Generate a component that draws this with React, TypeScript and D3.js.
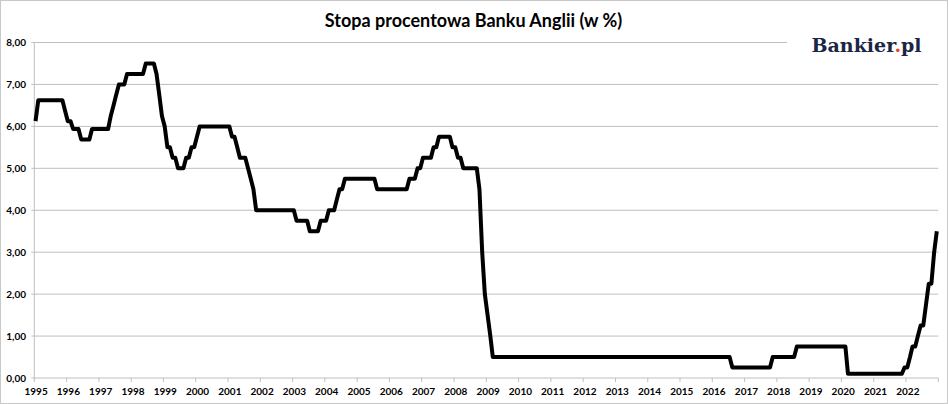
import React from "react";
import * as d3 from "d3";

// Monthly Bank of England rate (%), Jan 1995 – Dec 2022, one row per year
const rates: number[] = [
  // 1995
  6.125, 6.625, 6.625, 6.625, 6.625, 6.625, 6.625, 6.625, 6.625, 6.625, 6.625, 6.375,
  // 1996
  6.125, 6.125, 5.9375, 5.9375, 5.9375, 5.6875, 5.6875, 5.6875, 5.6875, 5.9375, 5.9375, 5.9375,
  // 1997
  5.9375, 5.9375, 5.9375, 5.9375, 6.25, 6.5, 6.75, 7.0, 7.0, 7.0, 7.25, 7.25,
  // 1998
  7.25, 7.25, 7.25, 7.25, 7.25, 7.5, 7.5, 7.5, 7.5, 7.25, 6.75, 6.25,
  // 1999
  6.0, 5.5, 5.5, 5.25, 5.25, 5.0, 5.0, 5.0, 5.25, 5.25, 5.5, 5.5,
  // 2000
  5.75, 6.0, 6.0, 6.0, 6.0, 6.0, 6.0, 6.0, 6.0, 6.0, 6.0, 6.0,
  // 2001
  6.0, 5.75, 5.75, 5.5, 5.25, 5.25, 5.25, 5.0, 4.75, 4.5, 4.0, 4.0,
  // 2002
  4.0, 4.0, 4.0, 4.0, 4.0, 4.0, 4.0, 4.0, 4.0, 4.0, 4.0, 4.0,
  // 2003
  4.0, 3.75, 3.75, 3.75, 3.75, 3.75, 3.5, 3.5, 3.5, 3.5, 3.75, 3.75,
  // 2004
  3.75, 4.0, 4.0, 4.0, 4.25, 4.5, 4.5, 4.75, 4.75, 4.75, 4.75, 4.75,
  // 2005
  4.75, 4.75, 4.75, 4.75, 4.75, 4.75, 4.75, 4.5, 4.5, 4.5, 4.5, 4.5,
  // 2006
  4.5, 4.5, 4.5, 4.5, 4.5, 4.5, 4.5, 4.75, 4.75, 4.75, 5.0, 5.0,
  // 2007
  5.25, 5.25, 5.25, 5.25, 5.5, 5.5, 5.75, 5.75, 5.75, 5.75, 5.75, 5.5,
  // 2008
  5.5, 5.25, 5.25, 5.0, 5.0, 5.0, 5.0, 5.0, 5.0, 4.5, 3.0, 2.0,
  // 2009
  1.5, 1.0, 0.5, 0.5, 0.5, 0.5, 0.5, 0.5, 0.5, 0.5, 0.5, 0.5,
  // 2010
  0.5, 0.5, 0.5, 0.5, 0.5, 0.5, 0.5, 0.5, 0.5, 0.5, 0.5, 0.5,
  // 2011
  0.5, 0.5, 0.5, 0.5, 0.5, 0.5, 0.5, 0.5, 0.5, 0.5, 0.5, 0.5,
  // 2012
  0.5, 0.5, 0.5, 0.5, 0.5, 0.5, 0.5, 0.5, 0.5, 0.5, 0.5, 0.5,
  // 2013
  0.5, 0.5, 0.5, 0.5, 0.5, 0.5, 0.5, 0.5, 0.5, 0.5, 0.5, 0.5,
  // 2014
  0.5, 0.5, 0.5, 0.5, 0.5, 0.5, 0.5, 0.5, 0.5, 0.5, 0.5, 0.5,
  // 2015
  0.5, 0.5, 0.5, 0.5, 0.5, 0.5, 0.5, 0.5, 0.5, 0.5, 0.5, 0.5,
  // 2016
  0.5, 0.5, 0.5, 0.5, 0.5, 0.5, 0.5, 0.25, 0.25, 0.25, 0.25, 0.25,
  // 2017
  0.25, 0.25, 0.25, 0.25, 0.25, 0.25, 0.25, 0.25, 0.25, 0.25, 0.5, 0.5,
  // 2018
  0.5, 0.5, 0.5, 0.5, 0.5, 0.5, 0.5, 0.75, 0.75, 0.75, 0.75, 0.75,
  // 2019
  0.75, 0.75, 0.75, 0.75, 0.75, 0.75, 0.75, 0.75, 0.75, 0.75, 0.75, 0.75,
  // 2020
  0.75, 0.75, 0.1, 0.1, 0.1, 0.1, 0.1, 0.1, 0.1, 0.1, 0.1, 0.1,
  // 2021
  0.1, 0.1, 0.1, 0.1, 0.1, 0.1, 0.1, 0.1, 0.1, 0.1, 0.1, 0.25,
  // 2022
  0.25, 0.5, 0.75, 0.75, 1.0, 1.25, 1.25, 1.75, 2.25, 2.25, 3.0, 3.5,
];

const startYear = 1995;
const endYear = 2023;
const yearTicks: number[] = d3.range(startYear, endYear + 1);
const yearLabels: number[] = d3.range(startYear, endYear);
const yTicks: number[] = [0, 1, 2, 3, 4, 5, 6, 7, 8];
const title = "Stopa procentowa Banku Anglii (w %)";

const W = 948;
const H = 404;
const plot = { left: 34.3, right: 938.3, top: 42.5, bottom: 378 };
const FONT = "Lato, 'Open Sans', sans-serif";

export default function App() {
  const x = d3
    .scaleUtc()
    .domain([new Date(Date.UTC(startYear, 0, 1)), new Date(Date.UTC(endYear, 0, 1))])
    .range([plot.left, plot.right]);
  const y = d3.scaleLinear().domain([0, 8]).range([plot.bottom, plot.top]);

  const data = rates.map((v, i) => ({ date: new Date(Date.UTC(startYear, i, 15)), v }));
  const line = d3
    .line<{ date: Date; v: number }>()
    .x((d) => x(d.date))
    .y((d) => y(d.v));

  const fmt = (v: number) => v.toFixed(2).replace(".", ",");
  const gridColor = "#bfbfbf";

  return (
    <svg
      width={W}
      height={H}
      style={{ position: "absolute", left: 0, top: 0, background: "#fff" }}
      fontFamily={FONT}
    >
      <rect x={0} y={0} width={W} height={H} fill="#fff" />
      {/* gridlines */}
      {yTicks.map((t) => (
        <line key={"g" + t} x1={plot.left} x2={plot.right} y1={y(t)} y2={y(t)} stroke={gridColor} strokeWidth={1} />
      ))}
      {/* y axis */}
      <line x1={plot.left} x2={plot.left} y1={plot.top} y2={plot.bottom} stroke={gridColor} strokeWidth={1} />
      {yTicks.map((t) => (
        <g key={"y" + t}>
          <line x1={plot.left - 3} x2={plot.left} y1={y(t)} y2={y(t)} stroke={gridColor} />
          <text x={26} y={y(t)} dy="0.35em" textAnchor="end" fontSize={10} fontWeight="bold" fill="#000">
            {fmt(t)}
          </text>
        </g>
      ))}
      {/* x ticks */}
      {yearTicks.map((yr) => {
        const px = x(new Date(Date.UTC(yr, 0, 1)));
        return <line key={"xt" + yr} x1={px} x2={px} y1={plot.bottom} y2={plot.bottom + 4} stroke={gridColor} />;
      })}
      {yearLabels.map((yr) => {
        const px = x(new Date(Date.UTC(yr, 0, 1)));
        return (
          <text key={"xl" + yr} x={px + 1.8} y={391.5} dy="0.35em" textAnchor="middle" fontSize={10} fontWeight="bold" fill="#000">
            {yr}
          </text>
        );
      })}
      {/* logo background */}
      <rect x={787} y={32} width={152} height={26} fill="#fff" />
      <text x={811.5} y={51.5} fontFamily="'DejaVu Serif', 'Liberation Serif', serif" fontWeight="bold" fontSize={19} fill="#1b2544">
        Bankier<tspan fill="#e8431b">.</tspan>pl
      </text>
      {/* series */}
      <path d={line(data) || ""} fill="none" stroke="#000" strokeWidth={4} strokeLinejoin="round" strokeLinecap="butt" />
      {/* title */}
      <text x={473.5} y={27} textAnchor="middle" fontSize={18} fontWeight="bold" fill="#000">
        {title}
      </text>
      {/* outer border */}
      <rect x={0.5} y={0.5} width={W - 1} height={H - 1} fill="none" stroke="#c8c8c8" strokeWidth={1} />
    </svg>
  );
}
